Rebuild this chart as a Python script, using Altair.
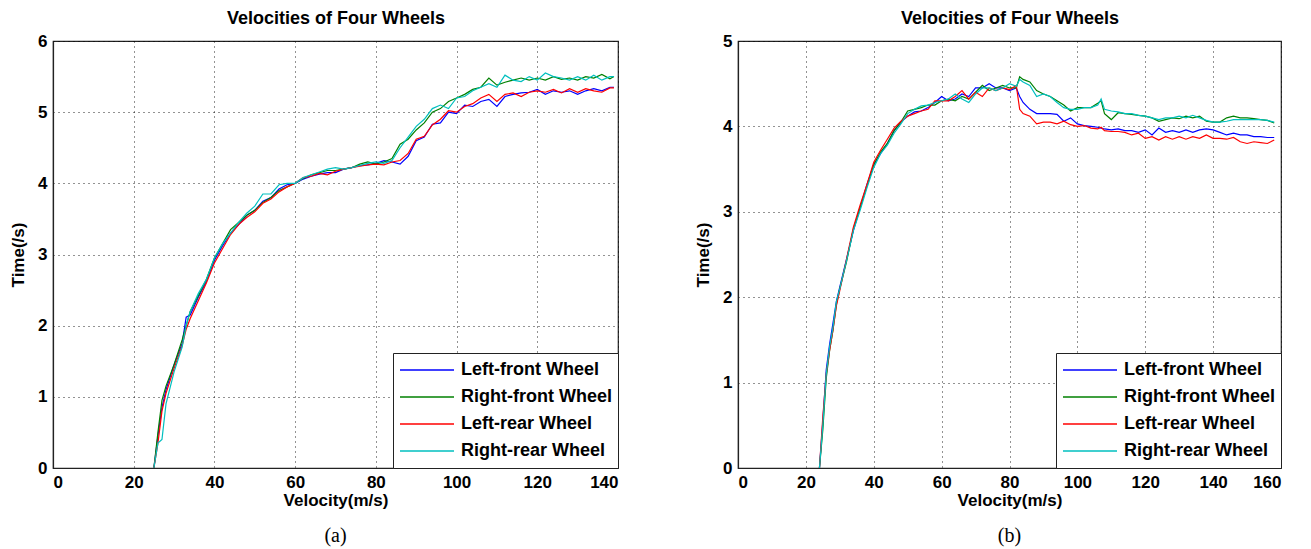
import altair as alt
import pandas as pd

SERIES = ["Left-front Wheel", "Right-front Wheel", "Left-rear Wheel", "Right-rear Wheel"]
COLORS = ["#0000ff", "#008000", "#ff0000", "#00bfbf"]

# ---------------- panel (a) ----------------
A_V = [25, 26, 27, 28, 30, 32, 33, 34, 36, 38, 40, 42, 44, 46, 48, 50, 52, 54, 56, 58,
       60, 62, 64, 66, 68, 70, 72, 74, 76, 78, 80, 82, 84, 86, 88, 90, 92, 94, 96, 98,
       100, 102, 104, 106, 108, 110, 112, 114, 116, 118, 120, 122, 124, 126, 128, 130,
       132, 134, 136, 138, 139]
A_LF = [0, 0.45, 0.85, 1.1, 1.45, 1.75, 2.12, 2.15, 2.4, 2.62, 2.92, 3.12, 3.3, 3.42, 3.55,
        3.62, 3.75, 3.8, 3.92, 3.98, 4.0, 4.06, 4.1, 4.13, 4.15, 4.15, 4.2, 4.22, 4.25, 4.26,
        4.28, 4.32, 4.3, 4.27, 4.38, 4.6, 4.65, 4.83, 4.85, 5.0, 4.98, 5.1, 5.08, 5.15, 5.18,
        5.08, 5.22, 5.25, 5.27, 5.28, 5.32, 5.25, 5.3, 5.28, 5.3, 5.25, 5.3, 5.33, 5.3, 5.35, 5.35]
A_RF = [0, 0.5, 0.95, 1.15, 1.45, 1.8, 2.0, 2.2, 2.42, 2.65, 2.95, 3.15, 3.35, 3.45, 3.55,
        3.62, 3.73, 3.8, 3.9, 3.95, 4.0, 4.07, 4.12, 4.15, 4.18, 4.18, 4.2, 4.22, 4.27, 4.3,
        4.27, 4.3, 4.35, 4.55, 4.62, 4.75, 4.85, 5.0, 5.05, 5.15, 5.2, 5.25, 5.32, 5.35, 5.48,
        5.38, 5.42, 5.45, 5.48, 5.45, 5.48, 5.45, 5.5, 5.46, 5.48, 5.45, 5.5, 5.48, 5.53, 5.47, 5.5]
A_LR = [0, 0.35, 0.8, 1.05, 1.4, 1.72, 1.95, 2.1, 2.35, 2.6, 2.88, 3.08, 3.28, 3.42, 3.52,
        3.6, 3.72, 3.78, 3.88, 3.95, 4.0, 4.08, 4.1, 4.14, 4.12, 4.17, 4.2, 4.22, 4.24, 4.26,
        4.27, 4.26, 4.3, 4.32, 4.42, 4.62, 4.66, 4.82, 4.9, 5.02, 5.0, 5.08, 5.12, 5.2, 5.25,
        5.15, 5.25, 5.27, 5.22, 5.28, 5.3, 5.28, 5.32, 5.27, 5.33, 5.28, 5.33, 5.3, 5.28, 5.34, 5.34]
A_RR = [0, 0.35, 0.4, 0.9, 1.35, 1.7, 2.0, 2.2, 2.45, 2.65, 2.95, 3.15, 3.3, 3.45, 3.58,
        3.68, 3.85, 3.85, 3.98, 4.0, 4.0, 4.08, 4.12, 4.16, 4.2, 4.22, 4.2, 4.22, 4.25, 4.28,
        4.3, 4.28, 4.32, 4.5, 4.65, 4.8, 4.9, 5.05, 5.1, 5.05, 5.2, 5.22, 5.3, 5.35, 5.4,
        5.35, 5.52, 5.45, 5.43, 5.5, 5.45, 5.55, 5.5, 5.48, 5.45, 5.5, 5.45, 5.52, 5.45, 5.5, 5.5]

# ---------------- panel (b) ----------------
B_V = [24, 25, 26, 27, 28, 29, 30, 32, 34, 36, 38, 40, 42, 44, 46, 48, 50, 52, 54, 56, 58,
       60, 62, 64, 66, 68, 70, 72, 74, 76, 78, 80, 82, 83, 84, 86, 88, 90, 92, 94, 96, 98,
       100, 102, 104, 106, 107, 108, 110, 112, 114, 116, 118, 120, 122, 124, 126, 128, 130,
       132, 134, 136, 138, 140, 142, 144, 146, 148, 150, 152, 154, 156, 158]
B_LF = [0, 0.55, 1.15, 1.45, 1.7, 1.95, 2.12, 2.45, 2.78, 3.05, 3.32, 3.55, 3.68, 3.8, 3.95,
        4.05, 4.12, 4.17, 4.18, 4.22, 4.28,
        4.35, 4.3, 4.32, 4.38, 4.35, 4.45, 4.45, 4.5, 4.45, 4.45, 4.42, 4.45, 4.35, 4.28,
        4.2, 4.15, 4.15, 4.15, 4.14, 4.06, 4.1, 4.03, 4.01, 4.0, 3.99, 3.98,
        3.97, 3.96, 3.97, 3.95, 3.95, 3.93, 3.96, 3.9, 3.98, 3.93, 3.95, 3.93, 3.96, 3.93,
        3.96, 3.97, 3.96, 3.93, 3.9, 3.92, 3.9, 3.9, 3.88, 3.88, 3.87, 3.87]
B_RF = [0, 0.45, 1.05, 1.38, 1.62, 1.92, 2.1, 2.42, 2.8, 3.05, 3.3, 3.55, 3.7, 3.8, 3.95,
        4.05, 4.18, 4.2, 4.22, 4.25, 4.25,
        4.3, 4.32, 4.3, 4.35, 4.32, 4.4, 4.48, 4.42, 4.45, 4.48, 4.45, 4.45, 4.58, 4.55,
        4.52, 4.42, 4.38, 4.35, 4.3, 4.25, 4.18, 4.22, 4.22, 4.22, 4.27, 4.3,
        4.15, 4.08, 4.16, 4.15, 4.14, 4.13, 4.12, 4.1, 4.06, 4.08, 4.1, 4.09, 4.12, 4.1,
        4.12, 4.06, 4.05, 4.05, 4.1, 4.12, 4.1, 4.1, 4.09, 4.08, 4.07, 4.04]
B_LR = [0, 0.6, 1.1, 1.38, 1.62, 1.9, 2.08, 2.45, 2.82, 3.08, 3.32, 3.58, 3.72, 3.85, 3.98,
        4.06, 4.12, 4.15, 4.18, 4.2, 4.3,
        4.3, 4.3, 4.35, 4.42, 4.32, 4.4, 4.35, 4.45, 4.42, 4.45, 4.43, 4.48, 4.2, 4.15,
        4.12, 4.03, 4.05, 4.05, 4.03, 4.06, 4.02, 4.0, 4.01, 3.98, 3.97, 3.99,
        3.95, 3.94, 3.94, 3.93, 3.9, 3.92, 3.86, 3.88, 3.84, 3.88, 3.85, 3.88, 3.85, 3.88,
        3.86, 3.9, 3.86, 3.86, 3.85, 3.87, 3.82, 3.8, 3.82, 3.81, 3.8, 3.84]
B_RR = [0, 0.5, 1.1, 1.42, 1.65, 1.95, 2.1, 2.43, 2.78, 3.02, 3.28, 3.52, 3.68, 3.78, 3.92,
        4.03, 4.15, 4.2, 4.24, 4.25, 4.28,
        4.3, 4.32, 4.38, 4.32, 4.28, 4.38, 4.45, 4.45, 4.42, 4.45, 4.5, 4.47, 4.55, 4.52,
        4.48, 4.35, 4.38, 4.35, 4.28, 4.22, 4.2, 4.2, 4.22, 4.22, 4.25, 4.32,
        4.2, 4.18, 4.17, 4.15, 4.15, 4.13, 4.12, 4.1, 4.08, 4.1, 4.1, 4.12, 4.1, 4.13,
        4.1, 4.07, 4.05, 4.05, 4.06, 4.08, 4.08, 4.08, 4.08, 4.08, 4.07, 4.05]

for s in (A_LF, A_RF, A_LR, A_RR):
    assert len(s) == len(A_V), (len(s), len(A_V))
for s in (B_LF, B_RF, B_LR, B_RR):
    assert len(s) == len(B_V), (len(s), len(B_V))


def long_df(v, cols):
    rows = []
    for k, (name, vals) in enumerate(zip(SERIES, cols)):
        for x, y in zip(v, vals):
            rows.append({"Velocity": x, "Time": y, "Wheel": name, "k": k})
    return pd.DataFrame(rows)


FONT = "Liberation Sans"


def panel(df, xmax, ymax, width, tag):
    xscale = alt.Scale(domain=[0, xmax], nice=False, zero=True)
    yscale = alt.Scale(domain=[0, ymax], nice=False)
    yaxis = alt.Axis(title="Time(/s)", values=list(range(0, ymax + 1)))
    lines = alt.Chart(df).mark_line(strokeWidth=1.2, clip=True).encode(
        x=alt.X("Velocity:Q", scale=xscale,
                axis=alt.Axis(title="Velocity(m/s)", values=list(range(0, xmax + 1, 20)))),
        y=alt.Y("Time:Q", scale=yscale, axis=yaxis),
        color=alt.Color("Wheel:N",
                        scale=alt.Scale(domain=SERIES, range=COLORS),
                        legend=alt.Legend(title=None, orient="bottom-right", offset=0,
                                          labelExpr="datum.label + '\u00a0\u00a0\u00a0\u00a0'")),
        detail="k:O",
    )
    # invisible layer that carries the top axis with the panel heading
    top = alt.Chart(df).mark_line(strokeOpacity=0).encode(
        x=alt.X("Velocity:Q", scale=xscale,
                axis=alt.Axis(orient="top", title="Velocities of Four Wheels", labels=False,
                              domain=False, ticks=False, grid=False, titlePadding=14,
                              titleFontSize=18)),
        y=alt.Y("Time:Q", scale=yscale, axis=yaxis),
        detail="k:O",
    )
    return alt.layer(lines, top).resolve_axis(x="independent").properties(
        width=width, height=427,
        title=alt.TitleParams(tag, orient="bottom", font="Liberation Serif", fontSize=20,
                              fontWeight="normal", offset=18, color="black"),
    )


left = panel(long_df(A_V, [A_LF, A_RF, A_LR, A_RR]), 140, 6, 565, "(a)")
right = panel(long_df(B_V, [B_LF, B_RF, B_LR, B_RR]), 160, 5, 543, "(b)")

chart = alt.hconcat(left, right, spacing=73).resolve_scale(color="independent").properties(
    padding=0
).configure_view(
    stroke="#222222", strokeWidth=1.2
).configure_axis(
    labelFont=FONT, labelFontSize=17, labelFontWeight="bold", labelColor="black",
    titleFont=FONT, titleFontSize=17, titleFontWeight="bold", titleColor="black",
    domainColor="#222222", domainWidth=1.2, ticks=False, labelPadding=6,
    gridColor="#000000", gridOpacity=0.85, gridDash=[1, 4], gridWidth=1,
).configure_axisBottom(titlePadding=2).configure_axisLeft(titlePadding=10).configure_legend(
    labelFont=FONT, labelFontSize=18, labelFontWeight="bold", labelColor="black",
    symbolType="stroke", symbolSize=2916, symbolStrokeWidth=1.5, clipHeight=22,
    rowPadding=5, padding=6, labelOffset=6, strokeColor="#222222", fillColor="white",
    labelLimit=400,
)

chart.save("out.html", embed_options={"renderer": "svg", "actions": False})
